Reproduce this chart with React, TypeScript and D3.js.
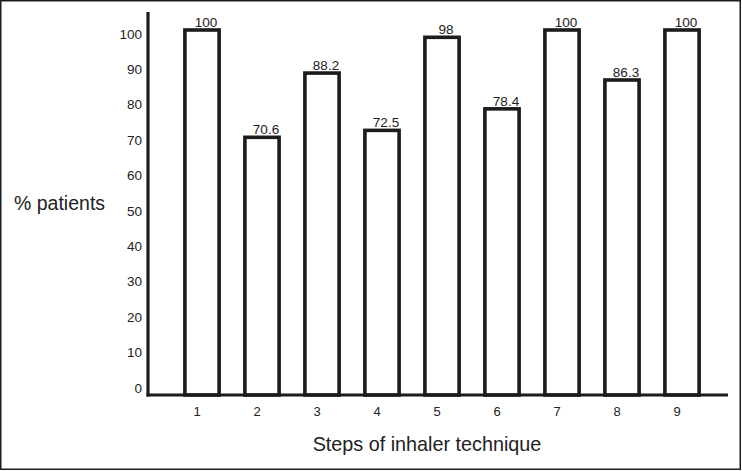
import React from "react";
import * as d3 from "d3";

const steps = ["1", "2", "3", "4", "5", "6", "7", "8", "9"];
const percentPatients = [100, 70.6, 88.2, 72.5, 98, 78.4, 100, 86.3, 100];
const valueLabels = ["100", "70.6", "88.2", "72.5", "98", "78.4", "100", "86.3", "100"];
const yTickValues = [0, 10, 20, 30, 40, 50, 60, 70, 80, 90, 100];

const W = 742;
const H = 471;
const INK = "#1c1c1c";
const FONT = "'Liberation Sans', Arial, Helvetica, sans-serif";

export default function App() {
  const x = d3
    .scaleBand<string>()
    .domain(steps)
    .range([172, 712])
    .paddingInner(0.43)
    .paddingOuter(0.215);
  const y = d3.scaleLinear().domain([0, 100]).range([395, 30]);
  const yLabel = d3.scaleLinear().domain([0, 100]).range([388, 34]);

  return (
    <svg
      width={W}
      height={H}
      style={{ position: "absolute", left: 0, top: 0, background: "#fff" }}
      fontFamily={FONT}
    >
      <rect x={0.75} y={0.75} width={W - 2.5} height={H - 2.5} fill="#fff" stroke={INK} strokeWidth={1.5} />

      {/* bars */}
      {steps.map((s, i) => (
        <rect
          key={s}
          x={x(s)!}
          y={y(percentPatients[i])}
          width={x.bandwidth()}
          height={y(0) - y(percentPatients[i])}
          fill="#fff"
          stroke={INK}
          strokeWidth={3.6}
        />
      ))}

      {/* axes */}
      <line x1={148} x2={148} y1={12} y2={396.5} stroke={INK} strokeWidth={3.2} />
      <line x1={146.5} x2={728} y1={395} y2={395} stroke={INK} strokeWidth={3.2} />

      {/* y tick labels */}
      {yTickValues.map((t) => (
        <text
          key={t}
          x={142}
          y={yLabel(t)}
          textAnchor="end"
          dominantBaseline="central"
          fontSize={13.5}
          fill="#222"
        >
          {t}
        </text>
      ))}

      {/* x tick labels */}
      {steps.map((s) => (
        <text
          key={s}
          x={x(s)! + x.bandwidth() / 2 - 5}
          y={411}
          textAnchor="middle"
          dominantBaseline="central"
          fontSize={13}
          fill="#222"
        >
          {s}
        </text>
      ))}

      {/* value labels */}
      {steps.map((s, i) => (
        <text
          key={s}
          x={x(s)! + x.bandwidth() / 2 + 4}
          y={y(percentPatients[i]) - 3}
          textAnchor="middle"
          fontSize={13.5}
          fill="#222"
        >
          {valueLabels[i]}
        </text>
      ))}

      <text x={14} y={203} dominantBaseline="central" fontSize={19.5} fill="#222">
        % patients
      </text>
      <text x={427} y={444} textAnchor="middle" dominantBaseline="central" fontSize={19.8} fill="#222">
        Steps of inhaler technique
      </text>
    </svg>
  );
}
